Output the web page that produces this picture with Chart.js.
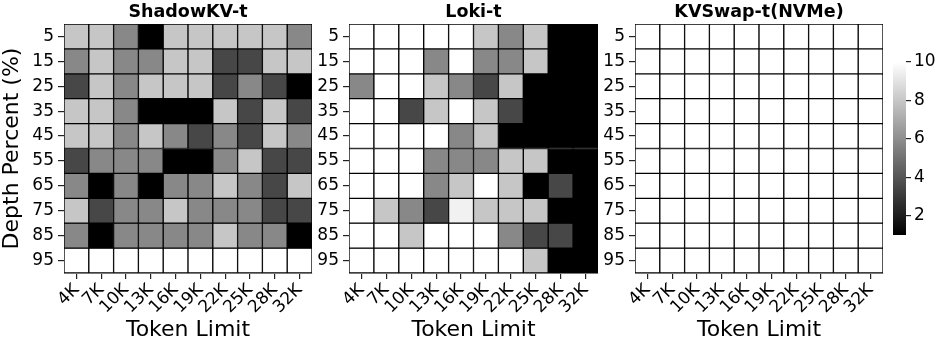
<!DOCTYPE html>
<html>
  <head>
    <script src="https://cdn.jsdelivr.net/npm/chart.js@4.4.0/dist/chart.umd.min.js"></script>
    <style>
      body { margin: 0; background: #fff; }
      #wrap { position: relative; width: 947px; height: 351px; overflow: hidden; }
      canvas { position: absolute; top: 0; }
    </style>
  </head>
  <body>
    <div id="wrap">
      <canvas id="c1" width="320" height="351" style="left:0px"></canvas>
      <canvas id="c2" width="296" height="351" style="left:312px"></canvas>
      <canvas id="c3" width="292" height="351" style="left:598px"></canvas>
      <canvas id="cb" width="67" height="351" style="left:880px"></canvas>
    </div>
    <script>
      // data
      var tokenLimits = ["4K", "7K", "10K", "13K", "16K", "19K", "22K", "25K", "28K", "32K"];
      var depths = ["5", "15", "25", "35", "45", "55", "65", "75", "85", "95"];
      var cbTicks = [2, 4, 6, 8, 10];
      var vmin = 1, vmax = 10;

      var shadowKV = [
        [8, 8, 5.8, 1, 8, 8, 8, 8, 8, 5.8],
        [5.8, 8, 5.8, 5.8, 8, 8, 3.5, 3.5, 8, 8],
        [3.5, 8, 5.8, 8, 8, 8, 3.5, 5.8, 3.5, 1],
        [8, 8, 5.8, 1, 1, 1, 8, 3.5, 8, 3.5],
        [8, 8, 5.8, 8, 5.8, 3.5, 5.8, 3.5, 8, 5.8],
        [3.5, 5.8, 5.8, 5.8, 1, 1, 5.8, 8, 3.5, 3.5],
        [5.8, 1, 5.8, 1, 5.8, 5.8, 8, 5.8, 3.5, 8],
        [8, 3.5, 5.8, 5.8, 8, 5.8, 5.8, 5.8, 3.5, 3.5],
        [5.8, 1, 5.8, 5.8, 5.8, 5.8, 8, 5.8, 5.8, 1],
        [10, 10, 10, 10, 10, 10, 10, 10, 10, 10]
      ];
      var loki = [
        [10, 10, 10, 10, 10, 8, 5.8, 8, 1, 1],
        [10, 10, 10, 5.8, 10, 5.8, 5.8, 8, 1, 1],
        [5.8, 10, 10, 8, 5.8, 3.5, 8, 1, 1, 1],
        [10, 10, 3.5, 8, 10, 8, 3.5, 1, 1, 1],
        [10, 10, 10, 10, 5.8, 8, 1, 1, 1, 1],
        [10, 10, 10, 5.8, 5.8, 5.8, 8, 8, 1, 1],
        [10, 10, 10, 5.8, 8, 10, 8, 1, 3.5, 1],
        [10, 8, 5.8, 3.5, 9.5, 8, 8, 8, 1, 1],
        [10, 10, 8, 10, 10, 10, 5.8, 3.5, 3.5, 1],
        [10, 10, 10, 10, 10, 10, 10, 8, 1, 1]
      ];
      var kvswap = [
        [10, 10, 10, 10, 10, 10, 10, 10, 10, 10],
        [10, 10, 10, 10, 10, 10, 10, 10, 10, 10],
        [10, 10, 10, 10, 10, 10, 10, 10, 10, 10],
        [10, 10, 10, 10, 10, 10, 10, 10, 10, 10],
        [10, 10, 10, 10, 10, 10, 10, 10, 10, 10],
        [10, 10, 10, 10, 10, 10, 10, 10, 10, 10],
        [10, 10, 10, 10, 10, 10, 10, 10, 10, 10],
        [10, 10, 10, 10, 10, 10, 10, 10, 10, 10],
        [10, 10, 10, 10, 10, 10, 10, 10, 10, 10],
        [10, 10, 10, 10, 10, 10, 10, 10, 10, 10]
      ];

      Chart.defaults.font.family = "'DejaVu Sans', sans-serif";
      Chart.defaults.color = "#000";
      Chart.defaults.animation = false;

      function grayOf(v) {
        var g = Math.round((v - vmin) / (vmax - vmin) * 255);
        g = Math.max(0, Math.min(255, g));
        return "rgb(" + g + "," + g + "," + g + ")";
      }

      function heatmap(id, title, values, yWidth, padRight, showYTitle) {
        var datasets = depths.map(function(d, r) {
          return {
            label: d,
            data: tokenLimits.map(function() { return [r, r + 1]; }),
            backgroundColor: values[r].map(grayOf),
            borderColor: "#000",
            borderWidth: 1,
            borderSkipped: false,
            grouped: false,
            barPercentage: 1,
            categoryPercentage: 1
          };
        });
        return new Chart(document.getElementById(id), {
          type: "bar",
          data: { labels: tokenLimits, datasets: datasets },
          options: {
            responsive: false,
            layout: { padding: { left: 0, right: padRight, top: 0, bottom: 0 } },
            plugins: {
              legend: { display: false },
              tooltip: { enabled: false },
              title: {
                display: true,
                fullSize: false,
                text: title,
                font: { size: 17.5, weight: "bold", lineHeight: 1 },
                padding: { top: 4, bottom: 2.5 }
              }
            },
            scales: {
              x: {
                grid: { display: true, drawOnChartArea: false, offset: false, tickLength: 6, color: "#222", lineWidth: 1.2 },
                border: { display: true, color: "#777", width: 1 },
                ticks: { font: { size: 17 }, minRotation: 45, maxRotation: 45, autoSkip: false, padding: 1 },
                title: { display: true, text: "Token Limit", font: { size: 22 }, padding: { top: 0, bottom: 8 } },
                afterFit: function(s) { s.height = 78; }
              },
              y: {
                type: "linear",
                min: 0,
                max: depths.length,
                reverse: true,
                afterBuildTicks: function(s) {
                  s.ticks = depths.map(function(d, i) { return { value: i + 0.5 }; });
                },
                grid: { display: true, drawOnChartArea: false, tickLength: 6, color: "#222", lineWidth: 1.2 },
                border: { display: true, color: "#777", width: 1 },
                ticks: {
                  font: { size: 17 },
                  autoSkip: false,
                  padding: 4,
                  callback: function(v, i) { return depths[i]; }
                },
                title: { display: showYTitle, text: "Depth Percent (%)", font: { size: 22, lineHeight: 1.1 }, padding: 0 },
                afterFit: function(s) { s.width = yWidth; }
              }
            }
          }
        });
      }

      heatmap("c1", "ShadowKV-t", shadowKV, 64, 8, true);
      heatmap("c2", "Loki-t", loki, 37, 10, false);
      heatmap("c3", "KVSwap-t(NVMe)", kvswap, 37, 7, false);

      // colorbar
      new Chart(document.getElementById("cb"), {
        type: "bar",
        data: {
          labels: [""],
          datasets: [{
            data: [[vmin, vmax]],
            backgroundColor: function(ctx) {
              var a = ctx.chart.chartArea;
              if (!a) return "#888";
              var g = ctx.chart.ctx.createLinearGradient(0, a.bottom, 0, a.top);
              g.addColorStop(0, grayOf(vmin));
              g.addColorStop(1, grayOf(vmax));
              return g;
            },
            borderWidth: 0,
            barPercentage: 1,
            categoryPercentage: 1
          }]
        },
        options: {
          responsive: false,
          layout: { padding: { left: 13, right: 0, top: 62, bottom: 116 } },
          plugins: { legend: { display: false }, tooltip: { enabled: false } },
          scales: {
            x: { display: false },
            y: {
              position: "right",
              min: vmin,
              max: vmax,
              afterBuildTicks: function(s) {
                s.ticks = cbTicks.map(function(t) { return { value: t }; });
              },
              grid: { display: true, drawOnChartArea: false, tickLength: 5, color: "#222", lineWidth: 1.2 },
              border: { display: false },
              ticks: { font: { size: 17 }, padding: 3 },
              afterFit: function(s) { s.width = 41; }
            }
          }
        }
      });
    </script>
  </body>
</html>
